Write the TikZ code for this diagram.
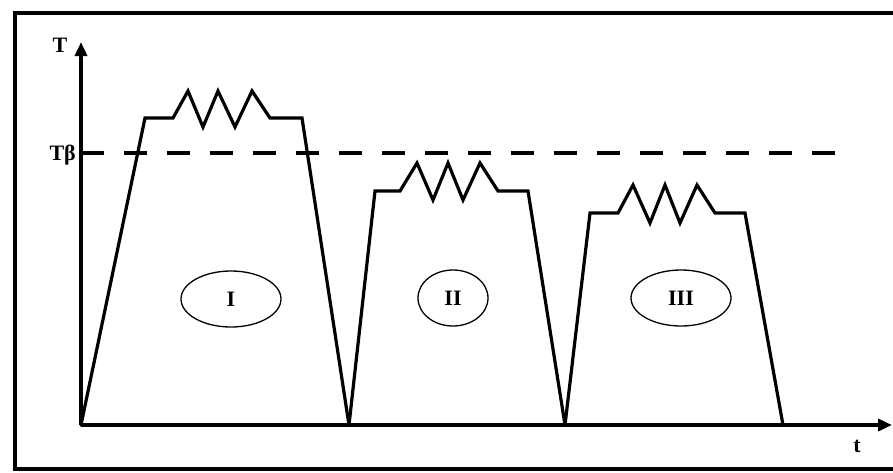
\documentclass[tikz,border=0pt]{standalone}
\usepackage{fontspec}
\setmainfont{Liberation Serif}
\usetikzlibrary{arrows.meta,shapes.geometric}
\begin{document}
\begin{tikzpicture}[x=1pt,y=-1pt,
  frame/.style={line width=4pt},
  axis/.style={line width=3.5pt,-{Triangle[length=14pt,width=12pt]}},
  curve/.style={line width=3.2pt,line join=miter,line cap=round},
  betaline/.style={line width=4pt,dash pattern=on 23pt off 20pt},
  phase/.style={ellipse,draw,line width=1.3pt,inner sep=0pt,font=\bfseries\fontsize{22}{22}\selectfont},
  lbl/.style={font=\bfseries\fontsize{22}{22}\selectfont,inner sep=0pt}]
\useasboundingbox (0,0) rectangle (893,472);
\fill[white] (0,0) rectangle (893,472);
% frame
\draw[frame] (893,13) -- (15,13) -- (15,469) -- (893,469);
% axes
\coordinate (O) at (81,425);
\coordinate (Ytop) at (81,42);
\coordinate (Xend) at (892,425);
\draw[axis] (O) -- (Ytop);
\draw[axis] (O) -- (Xend);
% T beta level
\coordinate (B0) at (81,153);
\coordinate (B1) at (842,153);
\draw[betaline] (B0) -- (B1);
% labels
\node[lbl] (T) at (60,45) {T};
\node[lbl,anchor=east] (Tb) at (76,155) {Tβ};
\node[lbl] (t) at (857,446) {t};
% curves
\coordinate (P1) at (349,425);
\coordinate (P2) at (565,425);
\coordinate (P3) at (783,425);
\draw[curve] (O) -- (145,118) -- (173,118) -- (188,91) -- (203,127) -- (218,91) -- (235,127) -- (252,91) -- (270,118) -- (302,118) -- (P1);
\draw[curve] (P1) -- (375,191) -- (400,191) -- (417,163) -- (433,200) -- (448,163) -- (463,200) -- (480,163) -- (498,191) -- (528,191) -- (P2);
\draw[curve] (P2) -- (590,213) -- (618,213) -- (633,185) -- (650,223) -- (665,185) -- (680,223) -- (697,185) -- (715,213) -- (745,213) -- (P3);
% phases
\node[phase,minimum width=100pt,minimum height=56pt] (ph1) at (231,299) {I};
\node[phase,minimum width=70pt,minimum height=56pt] (ph2) at (453,298) {II};
\node[phase,minimum width=100pt,minimum height=56pt] (ph3) at (681,298) {III};
\end{tikzpicture}
\end{document}
